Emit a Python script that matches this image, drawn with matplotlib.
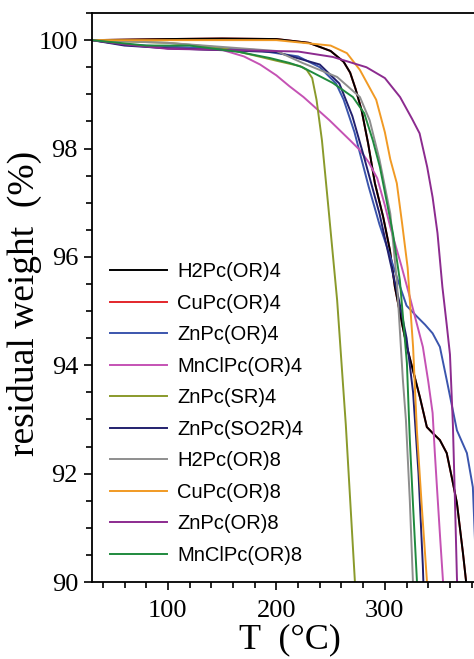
import matplotlib
matplotlib.use("Agg")
import matplotlib.pyplot as plt
from matplotlib.ticker import MultipleLocator

# data: (temperature, residual weight)
h2_or4_T = [30, 100, 150, 200, 230, 250, 262, 268, 273, 278.5, 284.6, 290.8, 298.4, 304.6, 309.2,
            316, 320.3, 326, 332.3, 338.7, 344, 350.7, 357, 362, 366.4, 372, 374.7, 376]
h2_or4_W = [100, 100.02, 100.03, 100.02, 99.95, 99.8, 99.6, 99.4, 99.1, 98.71, 98.09, 97.36, 96.74, 96.13, 95.45,
            94.75, 94.34, 93.9, 93.41, 92.86, 92.75, 92.62, 92.38, 91.9, 91.46, 90.53, 90.04, 89.7]

cu_or4_T = h2_or4_T
cu_or4_W = h2_or4_W

zn_or4_T = [30, 60, 100, 180, 220, 240, 255, 262, 272, 285, 295, 305, 312, 320, 329.5, 337, 344,
            350.7, 357, 366.4, 375.6, 381.1, 383, 384.5]
zn_or4_W = [100, 99.92, 99.88, 99.82, 99.7, 99.5, 99.2, 98.9, 98.3, 97.3, 96.6, 96.0, 95.57, 95.1, 94.9, 94.75, 94.59,
            94.34, 93.73, 92.8, 92.38, 91.75, 90.8, 89.8]

mncl_or4_T = [30, 60, 100, 150, 170, 185, 200, 212, 225, 249, 268, 277, 285, 293, 300, 305, 315, 323,
              329, 335, 340, 344, 346, 348, 351, 353.5, 354.5]
mncl_or4_W = [100, 99.92, 99.85, 99.82, 99.7, 99.55, 99.35, 99.15, 98.95, 98.52, 98.15, 97.97, 97.75, 97.45, 96.95,
              96.55, 95.85, 95.26, 94.8, 94.34, 93.7, 93.12, 92.4, 91.75, 90.8, 90.04, 89.7]

zn_sr4_T = [30, 100, 150, 200, 222, 228, 233, 237, 242, 248, 256, 264, 272.4, 273.5]
zn_sr4_W = [100, 99.95, 99.86, 99.62, 99.52, 99.45, 99.3, 98.9, 98.15, 96.9, 95.2, 92.9, 90.0, 89.6]

zn_so2r4_T = [30, 60, 100, 200, 240, 258, 270, 280, 295, 305, 313, 320, 326, 331, 335, 336]
zn_so2r4_W = [100, 99.9, 99.85, 99.78, 99.55, 99.2, 98.6, 97.9, 96.8, 95.9, 95.2, 94.5, 93.5, 92.0, 90.3, 89.7]

h2_or8_T = [30, 100, 200, 224, 256, 277, 286, 295, 305, 311, 316.6, 319.4, 323, 325.8, 326.3]
h2_or8_W = [100, 99.95, 99.8, 99.58, 99.32, 98.95, 98.52, 97.8, 96.8, 95.57, 93.73, 92.99, 91.5, 90.04, 89.7]

cu_or8_T = [30, 100, 200, 250, 265, 277, 292, 300, 305, 311, 316, 321, 323, 326, 329.5, 334, 338.7, 339.6]
cu_or8_W = [100, 100.0, 100.0, 99.9, 99.76, 99.45, 98.9, 98.3, 97.8, 97.36, 96.6, 95.8, 95.2, 94.34, 92.8, 91.4,
            90.04, 89.7]

zn_or8_T = [30, 60, 100, 150, 220, 252, 283, 300, 314, 325, 332, 339, 344, 348.5, 353, 357, 360,
            362.7, 364.6, 366.4, 367.2]
zn_or8_W = [100, 99.92, 99.84, 99.82, 99.79, 99.69, 99.5, 99.3, 98.95, 98.55, 98.28, 97.66, 97.1, 96.44, 95.45, 94.75,
            94.2, 92.9, 91.5, 90.09, 89.7]

mncl_or8_T = [30, 80, 120, 166, 194, 212, 224, 252, 270.5, 281, 288.9, 295.4, 307.4, 313.8, 320.3, 323,
              326, 329.5, 330.3]
mncl_or8_W = [100, 99.9, 99.9, 99.78, 99.67, 99.58, 99.5, 99.21, 98.95, 98.65, 98.15, 97.66, 96.44, 95.57, 94.04,
              92.62, 91.4, 90.04, 89.7]

labels = ["H2Pc(OR)4", "CuPc(OR)4", "ZnPc(OR)4", "MnClPc(OR)4", "ZnPc(SR)4",
          "ZnPc(SO2R)4", "H2Pc(OR)8", "CuPc(OR)8", "ZnPc(OR)8", "MnClPc(OR)8"]
colors = ["#000000", "#e3262b", "#3b55ad", "#c552b4", "#8a9a2b",
          "#22206e", "#8e8e8e", "#f19a24", "#8c2b8f", "#1f8a3e"]
series = [(h2_or4_T, h2_or4_W), (cu_or4_T, cu_or4_W), (zn_or4_T, zn_or4_W), (mncl_or4_T, mncl_or4_W),
          (zn_sr4_T, zn_sr4_W), (zn_so2r4_T, zn_so2r4_W), (h2_or8_T, h2_or8_W), (cu_or8_T, cu_or8_W),
          (zn_or8_T, zn_or8_W), (mncl_or8_T, mncl_or8_W)]

fig = plt.figure(figsize=(4.74, 6.59), dpi=100)
# axes run past the right edge of the picture, as in the original crop
ax = fig.add_axes([0.194, 0.1168, 0.8354, 0.8634])

# draw red first so black sits on top of it
order = [1, 0, 2, 3, 4, 5, 6, 7, 8, 9]
lines = {}
for i in order:
    T, W = series[i]
    ln, = ax.plot(T, W, color=colors[i], lw=1.4, label=labels[i])
    lines[i] = ln

ax.set_xlim(30, 395)
ax.set_ylim(90, 100.5)
ax.xaxis.set_major_locator(MultipleLocator(100))
ax.xaxis.set_minor_locator(MultipleLocator(20))
ax.yaxis.set_major_locator(MultipleLocator(2))
ax.yaxis.set_minor_locator(MultipleLocator(0.5))

ax.tick_params(which='both', direction='out', width=1.2, top=False, right=False)
ax.tick_params(which='major', length=6)
ax.tick_params(axis='x', which='major', pad=7)
ax.tick_params(axis='y', which='major', pad=4)
ax.tick_params(which='minor', length=4)
for lab in ax.get_xticklabels() + ax.get_yticklabels():
    lab.set_fontfamily('Liberation Serif')
    lab.set_fontsize(19)
for s in ax.spines.values():
    s.set_linewidth(1.3)

ax.set_xlabel('T  (\u00b0C)', fontdict={'family': 'Liberation Serif', 'size': 26}, labelpad=1)
ax.set_ylabel('residual weight  (%)', fontdict={'family': 'Liberation Serif', 'size': 27})
ax.yaxis.set_label_coords(-0.127, 0.489)

ax.legend([lines[i] for i in range(10)], labels, loc='upper left', bbox_to_anchor=(0.045, 0.562),
          frameon=False, prop={'family': 'Liberation Sans', 'size': 14.5},
          handlelength=2.84, handletextpad=0.5, labelspacing=0.62, borderpad=0, borderaxespad=0)

plt.savefig('out.png', dpi=100)
